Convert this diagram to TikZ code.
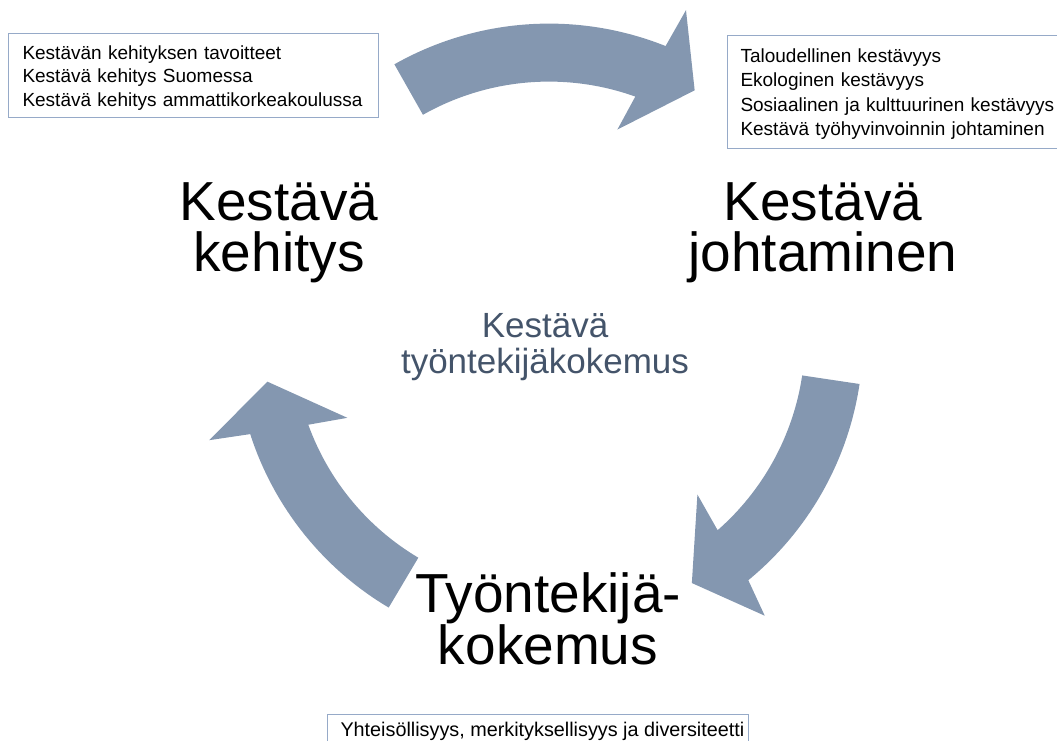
\documentclass[tikz,border=0pt]{standalone}
\usepackage{fontspec}
\setmainfont{Liberation Sans}
\definecolor{arrowblue}{RGB}{132,151,176}
\definecolor{boxline}{RGB}{150,170,200}
\definecolor{slate}{RGB}{68,84,106}
\begin{document}
\begin{tikzpicture}[x=1pt,y=1pt,
  cyc/.style={fill=arrowblue, draw=none},
  infobox/.style={draw=boxline, line width=1pt, anchor=north west, inner xsep=14pt, inner ysep=0pt, align=left, font=\fontsize{19}{23.5}\selectfont},
  bigtext/.style={align=center, font=\fontsize{55}{51}\selectfont, inner sep=0pt, anchor=base},
  midtext/.style={align=center, text=slate, font=\fontsize{35}{36}\selectfont, inner sep=0pt, anchor=base}]
\useasboundingbox (0,0) rectangle (1057,741);
\clip (0,0) rectangle (1057,741);
\coordinate (C) at (549,403.4);
% top arrow
\fill[cyc, shift={(C)}] (119.5:314) arc[start angle=119.5, end angle=68.2, radius=314]
  -- (67.3:355) -- (59.5:287) -- (71.8:219) -- (70.3:256)
  arc[start angle=70.3, end angle=119.5, radius=256] -- cycle;
% right arrow
\fill[cyc, shift={(C)}] (-8.5:314) arc[start angle=-8.5, end angle=-50.6, radius=314]
  -- (-52.2:352) -- (-59.8:284) -- (-46.6:216) -- (-48.8:256)
  arc[start angle=-48.8, end angle=-8.5, radius=256] -- cycle;
% left arrow
\fill[cyc, shift={(C)}] (239.3:314) arc[start angle=239.3, end angle=197.9, radius=314]
  -- (196.8:355) -- (188.9:285) -- (201.7:217) -- (199.9:256)
  arc[start angle=199.9, end angle=239.3, radius=256] -- cycle;
% info boxes
\node[infobox, text width=342pt] (b1) at (8,708)
  {\rule{0pt}{26pt}Kestävän kehityksen tavoitteet\\Kestävä kehitys Suomessa\\Kestävä kehitys ammattikorkeakoulussa\rule[-10.7pt]{0pt}{10.7pt}};
\node[infobox, text width=340pt, inner xsep=13pt, font=\fontsize{19}{24.5}\selectfont] (b2) at (727,706)
  {\rule{0pt}{27pt}Taloudellinen kestävyys\\Ekologinen kestävyys\\Sosiaalinen ja kulttuurinen kestävyys\\Kestävä työhyvinvoinnin johtaminen\rule[-12.5pt]{0pt}{12.5pt}};
\node[infobox, inner xsep=0pt, font=\fontsize{19.8}{24}\selectfont] (b3) at (327,27)
  {\rule{0pt}{22pt}\hspace*{13pt}Yhteisöllisyys, merkityksellisyys ja diversiteetti\hspace*{4pt}\rule[-12pt]{0pt}{12pt}};
% labels (anchor base = baseline of the last line)
\node[bigtext] (kk) at (279,469) {Kestävä\\kehitys};
\node[bigtext] (kj) at (823,469) {Kestävä\\johtaminen};
\node[bigtext] (tk) at (548,76) {Työntekijä-\\kokemus};
\node[midtext] (kt) at (545,367) {Kestävä\\työntekijäkokemus};
\end{tikzpicture}
\end{document}
